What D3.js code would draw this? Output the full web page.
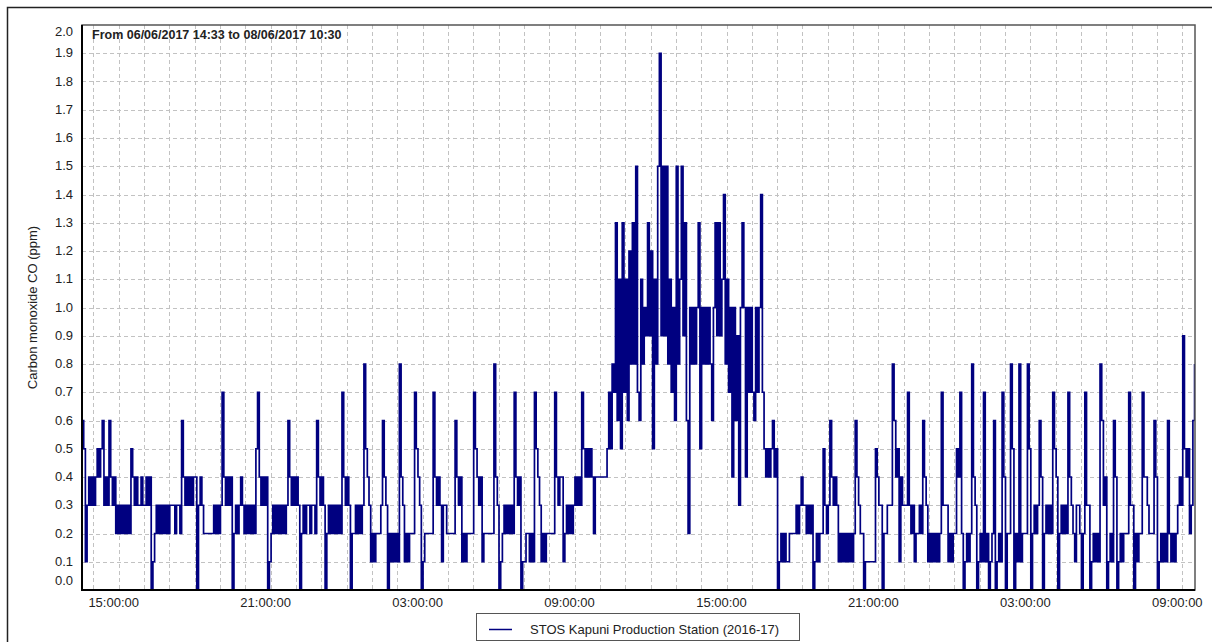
<!DOCTYPE html>
<html>
<head>
<meta charset="utf-8">
<script src="https://cdn.jsdelivr.net/npm/d3@7"></script>
<style>
  body { margin: 0; background: #fff; }
</style>
</head>
<body>
<script>
const width = 1212;
const height = 642;

const seriesName = "STOS Kapuni Production Station (2016-17)";
const rangeLabel = "From 06/06/2017 14:33 to 08/06/2017 10:30";
const yTitle = "Carbon monoxide CO (ppm)";

const startTime = new Date(2017, 5, 6, 14, 33);
const endTime = new Date(2017, 5, 8, 10, 30);
const stepMinutes = 4;

const yTicks = [0.0, 0.1, 0.2, 0.3, 0.4, 0.5, 0.6, 0.7, 0.8, 0.9, 1.0,
  1.1, 1.2, 1.3, 1.4, 1.5, 1.6, 1.7, 1.8, 1.9, 2.0];
const xLabelTimes = [
  new Date(2017, 5, 6, 15), new Date(2017, 5, 6, 21),
  new Date(2017, 5, 7, 3), new Date(2017, 5, 7, 9),
  new Date(2017, 5, 7, 15), new Date(2017, 5, 7, 21),
  new Date(2017, 5, 8, 3), new Date(2017, 5, 8, 9),
];

// CO readings (ppm), one every 4 minutes from 14:33, one row per hour
const coReadings = [
  0.6,0.5,0.1,0.3,0.4,0.3,0.4,0.3,0.4,0.5,0.4,0.5,0.6,0.3,0.4,
  0.3,0.6,0.4,0.3,0.4,0.2,0.3,0.2,0.3,0.2,0.3,0.2,0.3,0.2,0.5,
  0.4,0.3,0.4,0.3,0.3,0.4,0.3,0.3,0.4,0.3,0.4,0.0,0.1,0.2,0.3,
  0.2,0.3,0.2,0.3,0.2,0.3,0.2,0.3,0.3,0.3,0.2,0.3,0.3,0.2,0.6,
  0.4,0.3,0.4,0.3,0.4,0.3,0.4,0.4,0.0,0.3,0.4,0.3,0.2,0.2,0.2,
  0.2,0.2,0.2,0.3,0.2,0.3,0.2,0.3,0.7,0.4,0.3,0.4,0.3,0.4,0.0,
  0.2,0.3,0.2,0.3,0.4,0.3,0.2,0.3,0.2,0.3,0.2,0.3,0.2,0.5,0.7,
  0.4,0.3,0.4,0.3,0.4,0.0,0.1,0.2,0.3,0.2,0.3,0.2,0.3,0.2,0.3,
  0.2,0.3,0.6,0.4,0.3,0.4,0.3,0.4,0.3,0.0,0.2,0.3,0.2,0.3,0.3,
  0.2,0.3,0.3,0.2,0.6,0.4,0.3,0.4,0.3,0.0,0.2,0.3,0.2,0.3,0.2,
  0.3,0.2,0.3,0.2,0.7,0.4,0.3,0.4,0.3,0.0,0.2,0.2,0.3,0.2,0.3,
  0.2,0.3,0.8,0.5,0.4,0.3,0.1,0.2,0.1,0.2,0.2,0.2,0.3,0.6,0.4,
  0.3,0.0,0.2,0.1,0.2,0.1,0.2,0.1,0.8,0.4,0.3,0.1,0.2,0.1,0.2,
  0.2,0.2,0.7,0.5,0.4,0.3,0.0,0.1,0.2,0.2,0.2,0.2,0.2,0.7,0.4,
  0.3,0.4,0.3,0.1,0.3,0.3,0.2,0.2,0.2,0.2,0.2,0.6,0.4,0.3,0.4,
  0.1,0.2,0.1,0.2,0.2,0.2,0.2,0.7,0.5,0.4,0.3,0.4,0.1,0.2,0.2,
  0.2,0.2,0.2,0.2,0.8,0.4,0.3,0.0,0.1,0.2,0.3,0.2,0.3,0.2,0.3,
  0.2,0.7,0.4,0.3,0.4,0.0,0.1,0.1,0.2,0.2,0.1,0.2,0.1,0.7,0.5,
  0.4,0.3,0.1,0.2,0.1,0.2,0.2,0.2,0.2,0.2,0.7,0.4,0.3,0.4,0.4,
  0.1,0.2,0.3,0.2,0.3,0.2,0.3,0.4,0.3,0.4,0.3,0.7,0.5,0.4,0.5,
  0.4,0.5,0.4,0.2,0.4,0.4,0.4,0.4,0.4,0.4,0.4,0.5,0.7,0.5,0.8,
  0.7,1.3,0.6,1.1,0.5,1.3,0.7,1.1,0.6,1.2,0.8,1.3,0.8,1.5,0.7,
  0.6,1.1,0.8,1.0,0.9,1.3,0.9,1.2,0.5,1.1,0.8,1.5,1.9,0.9,1.5,
  0.9,1.5,0.8,1.1,0.7,1.0,0.6,1.5,0.8,1.1,1.5,0.9,1.3,0.6,0.2,
  1.0,0.8,1.0,0.8,1.0,1.3,0.5,1.0,0.8,1.0,0.8,1.0,0.8,0.6,1.0,
  1.3,0.9,1.3,0.9,1.1,1.4,0.8,1.1,0.7,1.0,0.4,1.0,0.6,0.9,0.3,
  1.0,1.3,1.0,0.4,1.0,0.7,1.0,0.7,0.6,1.0,0.7,1.0,1.4,0.7,0.5,
  0.4,0.5,0.4,0.5,0.6,0.4,0.5,0.0,0.1,0.2,0.1,0.2,0.1,0.1,0.2,
  0.2,0.2,0.2,0.3,0.2,0.3,0.4,0.3,0.3,0.2,0.3,0.2,0.3,0.0,0.1,
  0.2,0.1,0.2,0.2,0.5,0.3,0.2,0.3,0.6,0.4,0.3,0.4,0.3,0.1,0.2,
  0.1,0.2,0.1,0.2,0.1,0.2,0.1,0.2,0.6,0.4,0.3,0.2,0.2,0.0,0.1,
  0.1,0.1,0.1,0.1,0.1,0.5,0.4,0.3,0.3,0.0,0.2,0.2,0.3,0.3,0.3,
  0.8,0.6,0.4,0.5,0.1,0.4,0.3,0.3,0.3,0.7,0.3,0.2,0.3,0.1,0.2,
  0.2,0.3,0.2,0.6,0.4,0.3,0.1,0.2,0.1,0.2,0.1,0.2,0.1,0.2,0.7,
  0.3,0.3,0.3,0.1,0.2,0.1,0.2,0.2,0.5,0.4,0.7,0.2,0.0,0.1,0.2,
  0.1,0.2,0.8,0.4,0.3,0.0,0.1,0.2,0.1,0.7,0.1,0.2,0.0,0.1,0.2,
  0.6,0.0,0.1,0.2,0.1,0.7,0.4,0.0,0.2,0.2,0.8,0.5,0.0,0.2,0.1,
  0.8,0.1,0.2,0.2,0.2,0.8,0.5,0.0,0.2,0.3,0.2,0.3,0.6,0.4,0.0,
  0.2,0.3,0.2,0.3,0.2,0.7,0.5,0.4,0.0,0.2,0.3,0.2,0.3,0.2,0.7,
  0.4,0.3,0.2,0.1,0.3,0.3,0.2,0.0,0.2,0.7,0.3,0.3,0.0,0.1,0.2,
  0.1,0.2,0.1,0.8,0.6,0.3,0.4,0.0,0.1,0.2,0.1,0.6,0.4,0.0,0.1,
  0.2,0.1,0.2,0.2,0.2,0.7,0.3,0.3,0.0,0.2,0.1,0.2,0.2,0.7,0.4,
  0.4,0.3,0.2,0.2,0.2,0.6,0.4,0.0,0.1,0.2,0.1,0.2,0.1,0.6,0.2,
  0.1,0.2,0.1,0.2,0.3,0.4,0.3,0.9,0.5,0.4,0.5,0.2,0.3,0.6,0.8,
];

const plot = { left: 82, right: 1195, top: 25, bottom: 590 };

const svg = d3
  .select("body")
  .append("svg")
  .attr("width", width)
  .attr("height", height)
  .style("display", "block")
  .style("font-family", "'Liberation Sans', Arial, sans-serif");

// outer frame (runs off the right and bottom edges)
svg.append("rect")
  .attr("x", 7.5)
  .attr("y", 7.5)
  .attr("width", 1230)
  .attr("height", 660)
  .attr("fill", "none")
  .attr("stroke", "#222")
  .attr("stroke-width", 1.5);

const x = d3.scaleTime().domain([startTime, endTime]).range([plot.left, plot.right]);
const y = d3.scaleLinear().domain([0, 2]).range([plot.bottom, plot.top]);

const readings = coReadings.map((v, i) => ({
  time: d3.timeMinute.offset(startTime, i * stepMinutes),
  value: v,
}));

/* grid */
const grid = svg.append("g")
  .attr("stroke", "#c2c2c2")
  .attr("stroke-width", 1)
  .attr("stroke-dasharray", "4,3");

grid.selectAll(".hgrid")
  .data(yTicks.filter((d) => d > 0 && d < 2))
  .join("line")
  .attr("class", "hgrid")
  .attr("x1", plot.left)
  .attr("x2", plot.right)
  .attr("y1", (d) => Math.round(y(d)) + 0.5)
  .attr("y2", (d) => Math.round(y(d)) + 0.5);

grid.selectAll(".vgrid")
  .data(d3.timeHour.range(d3.timeHour.ceil(startTime), endTime))
  .join("line")
  .attr("class", "vgrid")
  .attr("x1", (d) => Math.round(x(d)) + 0.5)
  .attr("x2", (d) => Math.round(x(d)) + 0.5)
  .attr("y1", plot.top)
  .attr("y2", plot.bottom);

/* series */
svg.append("clipPath")
  .attr("id", "clip")
  .append("rect")
  .attr("x", plot.left)
  .attr("y", plot.top)
  .attr("width", plot.right - plot.left)
  .attr("height", plot.bottom - plot.top + 1);

const line = d3.line()
  .x((d) => x(d.time))
  .y((d) => y(d.value))
  .curve(d3.curveStepAfter);

svg.append("path")
  .datum(readings)
  .attr("clip-path", "url(#clip)")
  .attr("d", line)
  .attr("fill", "none")
  .attr("stroke", "#000080")
  .attr("stroke-width", 1.7);

/* plot frame */
svg.append("rect")
  .attr("x", plot.left)
  .attr("y", plot.top)
  .attr("width", plot.right - plot.left)
  .attr("height", plot.bottom - plot.top)
  .attr("fill", "none")
  .attr("stroke", "#555")
  .attr("stroke-width", 1.5);

svg.append("path")
  .attr("d", `M${plot.left},${plot.top}V${plot.bottom}H${plot.right}`)
  .attr("fill", "none")
  .attr("stroke", "#000")
  .attr("stroke-width", 2);

/* y axis */
const yAxis = d3.axisLeft(y)
  .tickValues(yTicks)
  .tickFormat(d3.format(".1f"))
  .tickSize(0)
  .tickPadding(9);

const yg = svg.append("g")
  .attr("transform", `translate(${plot.left},0)`)
  .call(yAxis);
yg.select(".domain").remove();
yg.selectAll(".tick")
  .attr("transform", (d) => `translate(0,${Math.min(Math.max(y(d), 32), 581)})`);
yg.selectAll("text")
  .attr("font-size", 13)
  .attr("font-family", "'Liberation Sans', Arial, sans-serif")
  .attr("fill", "#222");

svg.append("text")
  .attr("transform", `translate(37,${(plot.top + plot.bottom) / 2}) rotate(-90)`)
  .attr("text-anchor", "middle")
  .attr("font-size", 13)
  .attr("fill", "#222")
  .text(yTitle);

/* x labels */
const timeFormat = d3.timeFormat("%H:%M:%S");
svg.append("g")
  .selectAll("text")
  .data(xLabelTimes)
  .join("text")
  .attr("x", (d) => x(d) - 5)
  .attr("y", 607)
  .attr("font-size", 13)
  .attr("fill", "#222")
  .text((d) => timeFormat(d));

/* range note */
svg.append("text")
  .attr("x", 92)
  .attr("y", 39)
  .attr("font-size", 12.5)
  .attr("font-weight", "bold")
  .attr("fill", "#222")
  .text(rangeLabel);

/* legend */
const legend = svg.append("g").attr("id", "legend");
legend.append("rect")
  .attr("x", 476.5)
  .attr("y", 613.5)
  .attr("width", 323)
  .attr("height", 27)
  .attr("fill", "#fff")
  .attr("stroke", "#555");
legend.append("line")
  .attr("x1", 489)
  .attr("x2", 512)
  .attr("y1", 629.5)
  .attr("y2", 629.5)
  .attr("stroke", "#000080")
  .attr("stroke-width", 1.5);
legend.append("text")
  .attr("x", 530)
  .attr("y", 634)
  .attr("font-size", 13)
  .attr("fill", "#222")
  .text(seriesName);
</script>
</body>
</html>
